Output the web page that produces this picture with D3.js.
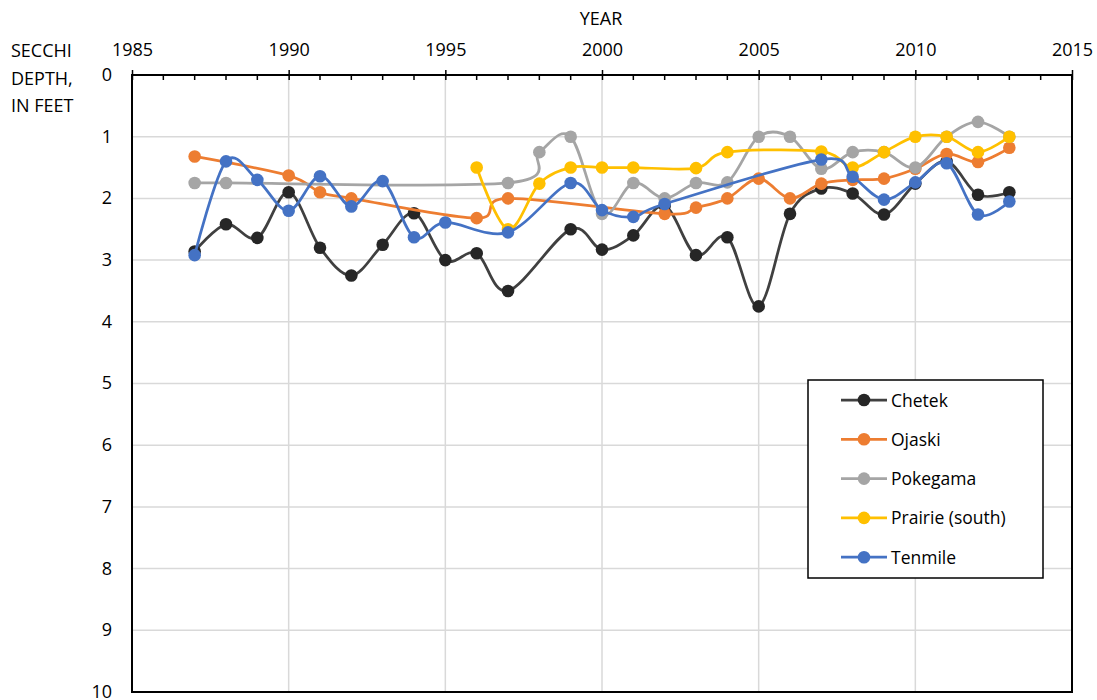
<!DOCTYPE html>
<html><head><meta charset="utf-8">
<script src="https://cdn.jsdelivr.net/npm/d3@7/dist/d3.min.js"></script>
<style>body{margin:0;background:#fff}svg{display:block}text{font-family:"Open Sans","Liberation Sans",sans-serif;fill:#000}</style>
</head><body><svg id="c" width="1097" height="700"></svg>
<script>
const seriesNames = ["Chetek","Ojaski","Pokegama","Prairie (south)","Tenmile"];
const colors = ["#262626","#ED7D31","#A5A5A5","#FFC000","#4472C4"];
const lineColors = ["#404040","#ED7D31","#A5A5A5","#FFC000","#4472C4"];
const chetek = [[1987,2.86],[1988,2.42],[1989,2.64],[1990,1.9],[1991,2.8],[1992,3.25],[1993,2.75],[1994,2.24],[1995,3.0],[1996,2.89],[1997,3.5],[1999,2.5],[2000,2.83],[2001,2.6],[2002,2.12],[2003,2.92],[2004,2.63],[2005,3.75],[2006,2.25],[2007,1.84],[2008,1.92],[2009,2.26],[2010,1.76],[2011,1.4],[2012,1.94],[2013,1.9]];
const ojaski = [[1987,1.32],[1990,1.63],[1991,1.9],[1992,2.0],[1996,2.32],[1997,2.0],[2002,2.25],[2003,2.15],[2004,2.0],[2005,1.68],[2006,2.0],[2007,1.76],[2008,1.7],[2009,1.68],[2010,1.52],[2011,1.28],[2012,1.41],[2013,1.18]];
const pokegama = [[1987,1.75],[1988,1.75],[1997,1.75],[1998,1.25],[1999,1.0],[2000,2.25],[2001,1.75],[2002,2.0],[2003,1.75],[2004,1.74],[2005,1.0],[2006,1.0],[2007,1.52],[2008,1.25],[2009,1.25],[2010,1.5],[2011,1.0],[2012,0.76],[2013,1.0]];
const prairie = [[1996,1.5],[1997,2.5],[1998,1.76],[1999,1.5],[2000,1.5],[2001,1.5],[2003,1.51],[2004,1.25],[2007,1.24],[2008,1.5],[2009,1.25],[2010,1.0],[2011,1.0],[2012,1.25],[2013,1.0]];
const tenmile = [[1987,2.92],[1988,1.4],[1989,1.7],[1990,2.2],[1991,1.64],[1992,2.13],[1993,1.72],[1994,2.63],[1995,2.39],[1997,2.55],[1999,1.75],[2000,2.19],[2001,2.3],[2002,2.09],[2007,1.37],[2008,1.65],[2009,2.02],[2010,1.74],[2011,1.43],[2012,2.26],[2013,2.05]];
const allSeries = [chetek,ojaski,pokegama,prairie,tenmile];
const xTicks = [1985,1990,1995,2000,2005,2010,2015];
const yTicks = [0,1,2,3,4,5,6,7,8,9,10];

const svg = d3.select("#c");
const L=132,R=1072,T=75,B=692;
const x = d3.scaleLinear().domain([1985,2015]).range([L,R]);
const y = d3.scaleLinear().domain([0,10]).range([T,B]);

// gridlines
const g = svg.append("g");
g.selectAll(".vg").data(xTicks.slice(1,-1)).join("line")
  .attr("x1",d=>x(d)).attr("x2",d=>x(d)).attr("y1",T).attr("y2",B)
  .attr("stroke","#d9d9d9").attr("stroke-width",1.5);
g.selectAll(".hg").data(yTicks.slice(1,-1)).join("line")
  .attr("x1",L).attr("x2",R).attr("y1",d=>y(d)).attr("y2",d=>y(d))
  .attr("stroke","#d9d9d9").attr("stroke-width",1.5);

// top axis
const xAxis = d3.axisTop(x).tickValues(xTicks).tickFormat(d3.format("d")).tickSize(5).tickPadding(14);
const ax = svg.append("g").attr("transform",`translate(0,${T})`).call(xAxis);
ax.select(".domain").remove();
ax.selectAll("line").attr("stroke","#000").attr("stroke-width",1.5).attr("y2",-5).attr("y1",5);
ax.selectAll("text").attr("font-size",18).attr("dy",0);
// minor ticks
svg.append("g").selectAll("line").data(d3.range(1986,2015).filter(d=>d%5)).join("line")
  .attr("x1",d=>x(d)).attr("x2",d=>x(d)).attr("y1",T).attr("y2",T+5)
  .attr("stroke","#000").attr("stroke-width",1.5);

// left axis labels
const yAxis = d3.axisLeft(y).tickValues(yTicks).tickSize(0).tickPadding(20);
const ay = svg.append("g").attr("transform",`translate(${L},0)`).call(yAxis);
ay.select(".domain").remove();
ay.selectAll("text").attr("font-size",18).attr("dy","0.3em");

// border
svg.append("rect").attr("x",L).attr("y",T).attr("width",R-L).attr("height",B-T)
  .attr("fill","none").attr("stroke","#000").attr("stroke-width",2);

// series
const line = d3.line().x(d=>x(d[0])).y(d=>y(d[1])).curve(d3.curveCatmullRom.alpha(0));
allSeries.forEach((s,i)=>{
  svg.append("path").datum(s).attr("d",line).attr("fill","none")
    .attr("stroke",lineColors[i]).attr("stroke-width",2.75);
  svg.append("g").selectAll("circle").data(s).join("circle")
    .attr("cx",d=>x(d[0])).attr("cy",d=>y(d[1])).attr("r",6.3).attr("fill",colors[i]);
});

// titles
svg.append("text").attr("x",601).attr("y",25).attr("text-anchor","middle").attr("font-size",18).text("YEAR");
const yt = svg.append("text").attr("text-anchor","start").attr("font-size",18);
[["SECCHI",57],["DEPTH,",84.5],["IN FEET",112]].forEach(([t,yy])=>yt.append("tspan").attr("x",11).attr("y",yy).text(t));

// legend
const lg = svg.append("g");
lg.append("rect").attr("x",808).attr("y",380).attr("width",235).attr("height",198)
  .attr("fill","#fff").attr("stroke","#000").attr("stroke-width",1.5);
seriesNames.forEach((n,i)=>{
  const yy = 400 + i*39.3;
  lg.append("line").attr("x1",841).attr("x2",887).attr("y1",yy).attr("y2",yy).attr("stroke",lineColors[i]).attr("stroke-width",2.75);
  lg.append("circle").attr("cx",864).attr("cy",yy).attr("r",6.3).attr("fill",colors[i]);
  lg.append("text").attr("x",891).attr("y",yy+6.5).attr("font-size",17.5).text(n);
});
</script></body></html>
